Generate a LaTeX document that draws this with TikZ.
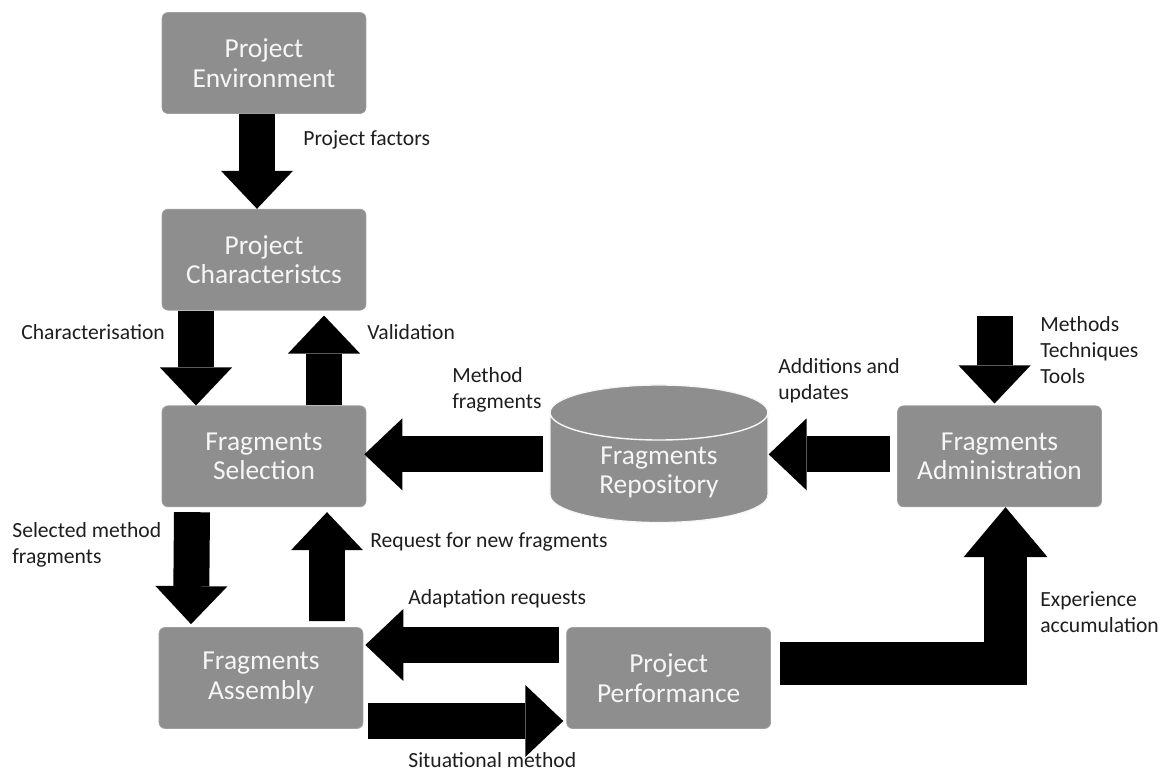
\documentclass[tikz,border=0pt]{standalone}
\usepackage{fontspec}
\setmainfont{Carlito}
\usetikzlibrary{arrows.meta,positioning,shapes.geometric,calc}

\definecolor{boxgray}{RGB}{142,142,142}
\definecolor{boxtext}{RGB}{246,246,246}
\definecolor{labeltext}{RGB}{30,30,30}

\begin{document}
\begin{tikzpicture}[
	x=0.02cm,y=-0.02cm,
	font=\fontsize{12.3}{14.8}\selectfont,
	box/.style={
		rectangle,rounded corners=0.12cm,align=center,
		fill=boxgray,draw=boxgray!85!white,text=boxtext,
		minimum width=4.08cm,minimum height=2.02cm,
		font=\fontsize{15.6}{16.8}\selectfont
	},
	store/.style={
		cylinder,shape border rotate=90,aspect=0.42,align=center,
		fill=boxgray,draw=boxtext,thick,text=boxtext,
		minimum width=4.36cm,minimum height=2.44cm,
		font=\fontsize{15.6}{16.8}\selectfont
	},
	lbl/.style={anchor=west,align=left,inner sep=0pt,text=labeltext},
	arrow/.style={line width=0.72cm,
		-{Triangle[length=0.76cm,width=1.44cm,line width=0pt]}},
	bigarrow/.style={line width=0.86cm,line join=miter,
		-{Triangle[length=1.0cm,width=1.68cm,line width=0pt]}}
	]
	\useasboundingbox (0,0) rectangle (1164,771);
	
	\node[box] (env) at (264,63) {Project\\Environment};
	
	\node[box,below=1.9cm of env] (char) {Project\\Characteristcs};
	
	\node[box,below=1.9cm of char] (sel) {Fragments\\Selection};
	
	\node[box,below=2.4cm of sel,xshift=-0.06cm] (asm) {Fragments\\Assembly};
	
	\node[store,right=3.66cm of sel,yshift=-0.32cm] (repo) {Fragments\\Repository};
	
	\node[box,right=10.62cm of sel] (admin) {Fragments\\Administration};
	
	\node[box,right=4.06cm of asm] (perf) {Project\\Performance};
	
	% left column
	\draw[arrow] ($(env.south)+(-7,0)$) -- ($(char.north)+(-7,0)$);
	\draw[arrow] ($(char.south)+(-68,0)$) -- ($(sel.north)+(-68,0)$);
	\draw[arrow] ($(sel.north)+(60,0)$) -- ($(char.south)+(60,5)$);
	\draw[arrow] ($(sel.south)+(-72,5)$) -- ($(asm.north)+(-70,-3)$);
	\draw[arrow] ($(asm.north)+(66,-6)$) -- ($(sel.south)+(63,5)$);
	
	% repository row
	\draw[arrow] ($(repo.west |- sel.east)+(-6,-2)$) -- ($(sel.east)+(-2,-2)$);
	\draw[arrow] ($(admin.west)+(-7,-2)$) -- ($(repo.east |- admin.west)+(0,-2)$);
	\coordinate (mtt) at ($(admin.north)+(-5,-89)$);
	\draw[arrow] (mtt) -- ($(admin.north)+(-5,-2)$);
	
	% bottom row
	\draw[arrow] ($(perf.west)+(-7,-33)$) -- ($(asm.east)+(2,-33)$);
	\draw[arrow] ($(asm.east)+(5,43)$) -- ($(perf.west)+(-3,43)$);
	\draw[bigarrow] ($(perf.east)+(9,-14)$) -| ($(admin.south)+(6,0)$);
	
	\node[lbl] (lfactors) at (303,140) {Project factors};
	\node[lbl] (lchar) at (21,332) {Characterisation};
	\node[lbl] (lvalid) at (367,332) {Validation};
	\node[lbl] (lmethod) at (452,390) {Method\\fragments};
	\node[lbl] (ladd) at (778,381) {Additions and\\updates};
	\node[lbl] (lmtt) at (1040,350) {Methods\\Techniques\\Tools};
	\node[lbl] (lselected) at (12,545) {Selected method\\fragments};
	\node[lbl] (lrequest) at (370,542) {Request for new fragments};
	\node[lbl] (ladapt) at (408,599) {Adaptation requests};
	\node[lbl] (lsit) at (408,760) {Situational method};
	\node[lbl] (lexp) at (1040,612) {Experience\\accumulation};
	
\end{tikzpicture}
\end{document}
